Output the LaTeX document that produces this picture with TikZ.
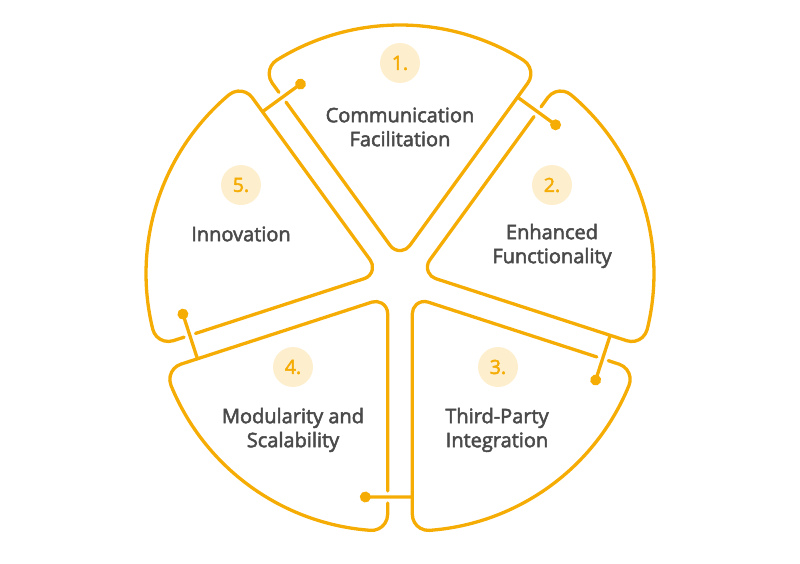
\documentclass[tikz,border=0pt]{standalone}
\usepackage{fontspec}
\setmainfont{Open Sans}
\newfontfamily\medfont{Open Sans}[FakeBold=2.5]
\definecolor{ora}{RGB}{245,173,5}
\definecolor{peach}{RGB}{253,238,206}
\definecolor{txt}{RGB}{74,74,74}
\begin{document}
\begin{tikzpicture}[x=1pt,y=1pt,
  outline/.style={draw=ora,line width=3.3pt,line cap=round,line join=round},
  conn/.style={draw=ora,line width=3.3pt},
  numc/.style={circle,fill=peach,minimum size=40pt,inner sep=0pt,text=ora,font=\medfont\fontsize{19.5}{22}\selectfont},
  lbl/.style={align=center,text=txt,font=\medfont\fontsize{20}{24}\selectfont,inner sep=0pt}]
\useasboundingbox (-400,-283) rectangle (400,280);
\foreach \i in {1,...,5}{
  \pgfmathsetmacro\b{90-72*(\i-1)}
  \begin{scope}[shift={(\b:21)},rotate=\b-90]
    \draw[outline] (126:194) -- (126:16.517)
      arc[start angle=216,end angle=324,radius=12]
      -- (54:217.41)
      arc[start angle=-36,end angle=58.209,radius=16]
      arc[start angle=58.209,end angle=121.791,radius=234]
      arc[start angle=121.791,end angle=216,radius=16]
      -- (126:206);
    \coordinate (s\i) at (54:200);
    \coordinate (e\i) at (155.58,134.18);
    \draw[conn] (s\i) -- (e\i);
    \fill[ora] (e\i) circle (5.5);
  \end{scope}
}
\node[numc] (n1) at (0,217) {1.};
\node[numc] (n2) at (152,95) {2.};
\node[numc] (n3) at (98,-87) {3.};
\node[numc] (n4) at (-107,-87) {4.};
\node[numc] (n5) at (-159,95) {5.};
\node[lbl] (t1) at (0,153) {Communication\\Facilitation};
\node[lbl] (t2) at (152,34) {Enhanced\\Functionality};
\node[lbl] (t3) at (97,-150) {Third-Party\\Integration};
\node[lbl] (t4) at (-107,-150) {Modularity and\\Scalability};
\node[lbl] (t5) at (-159,46) {Innovation};
\end{tikzpicture}
\end{document}
